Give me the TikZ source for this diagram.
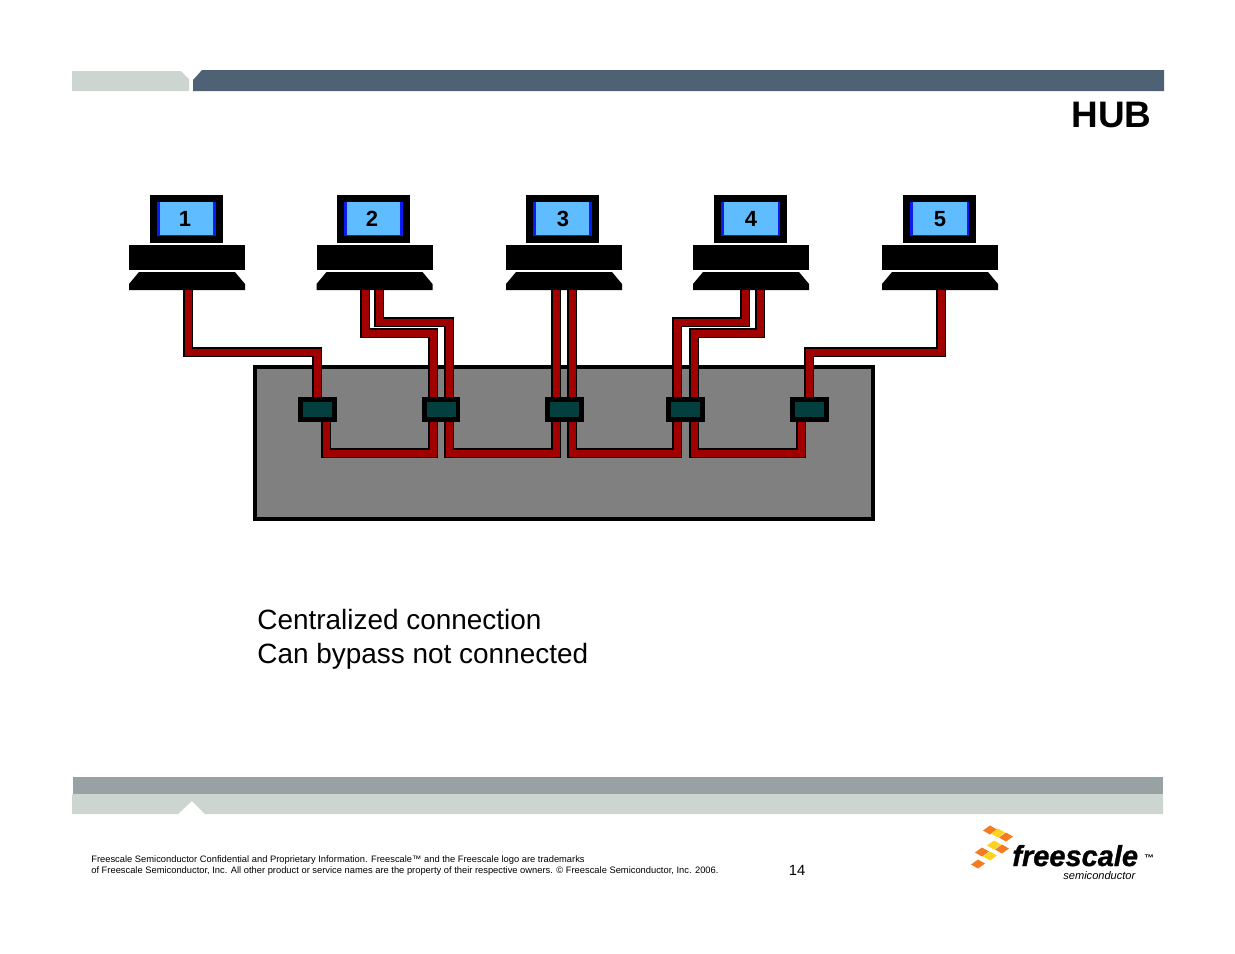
\documentclass[tikz,border=0pt]{standalone}
\usepackage{fontspec}
\setmainfont{Liberation Sans}
\definecolor{barlight}{HTML}{CCD5D0}
\definecolor{bardark}{HTML}{4F6174}
\definecolor{barmid}{HTML}{98A2A5}
\definecolor{screenfill}{HTML}{5EBCFF}
\definecolor{screenedge}{HTML}{0A1CF0}
\definecolor{cablered}{HTML}{A00000}
\definecolor{portfill}{HTML}{033F3F}
\definecolor{hubgrey}{HTML}{808080}
\definecolor{logoorange}{HTML}{F47B20}
\definecolor{logoyellow}{HTML}{FFD21F}

\begin{document}
\begin{tikzpicture}[x=0.02cm, y=-0.02cm,
        monitor/.style={draw=black, line width=0.14cm, fill=screenedge, minimum width=1.32cm, minimum height=0.82cm, inner sep=0pt},
        screen/.style={fill=screenfill, minimum width=1.08cm, minimum height=0.66cm, inner sep=0pt},
        hubbox/.style={draw=black, line width=0.08cm, fill=hubgrey, minimum width=12.36cm, minimum height=3.04cm},
        port/.style={draw=black, line width=0.1cm, fill=portfill, minimum width=0.68cm, minimum height=0.4cm, inner sep=0pt},
        cable/.style={draw=black, line width=0.03cm, double=cablered, double distance=0.14cm},
        caption/.style={anchor=base west, inner sep=0pt, font=\fontsize{15.9}{15.9}\selectfont},
        legal/.style={anchor=base west, inner sep=0pt, font=\fontsize{5.32}{5.32}\selectfont}]
    \useasboundingbox (0,0) rectangle (1235,954);
    \fill[barlight] (72,71) -- (181,71) -- (189,79) -- (189,91) -- (72,91) -- cycle;
    \fill[bardark] (193,91) -- (193,80) -- (202,70) -- (1164,70) -- (1164,91) -- cycle;
    \fill[barmid] (73,777) rectangle (1163,794);
    \fill[barlight] (72,794) -- (1163,794) -- (1163,814) -- (205,814) -- (192,801) -- (178,814) -- (72,814) -- cycle;
    \node[anchor=base east, inner sep=0pt, font=\fontsize{21}{21}\selectfont\bfseries] (title) at (1152,127) {HUB};
    \foreach \n/\x/\t/\b in {1/150/185/129,2/337/372/316.5,3/526/563/506,4/714/751/693,5/903/940/882} {
        \node[monitor] (mon\n) at (\x+36.5,219) {};
        \node[screen] (scr\n) at (\x+36.5,218.5) {};
        \node[inner sep=0pt, font=\fontsize{12.5}{12.5}\selectfont\bfseries] (num\n) at (\t,219) {\n};
        \fill (\b,245) rectangle (\b+116,270);
        \fill (\b,290) -- (\b,284) -- (\b+10,272) -- (\b+106,272) -- (\b+116,284) -- (\b+116,290) -- cycle;
    }
    \node[hubbox] (hub) at (564,443) {};
    \foreach \n/\x/\y in {a1/188/290,a2/365/290,b2/379/290,a3/556/290,b3/572/290,a4/745/290,b4/760/290,a5/941/290,
            u1/317/400,u2/433/400,v2/449/400,u3/556/400,v3/572/400,u4/677/400,v4/694/400,u5/809/400,
            d1/326/420,d2/433/420,e2/449/420,d3/556/420,e3/572/420,d4/677/420,e4/694/420,d5/801/420}
        \coordinate (\n) at (\x,\y);
    \foreach \a/\b/\y in {a1/u1/352,a2/u2/333,b2/v2/322,a3/u3/352,b3/v3/352,a4/u4/322,b4/v4/333,a5/u5/352,
            d1/d2/453,e2/d3/453,e3/d4/453,e4/d5/453}
        \draw[cable] (\a) -- (\a |- 0,\y) -- (\b |- 0,\y) -- (\b);
    \foreach \n/\x in {1/317.5,2/441,3/564.5,4/685.5,5/809.5}
        \node[port] (port\n) at (\x,409.5) {};
    \node[caption] (capa) at (257,629.5) {Centralized connection};
    \node[caption] (capb) at (257,663.5) {Can bypass not connected};
    \node[legal] (lega) at (91,862) {Freescale Semiconductor Confidential and Proprietary Information. Freescale™ and the Freescale logo are trademarks};
    \node[legal] (legb) at (91,873) {of Freescale Semiconductor, Inc. All other product or service names are the property of their respective owners. © Freescale Semiconductor, Inc. 2006.};
    \node[anchor=base, inner sep=0pt, font=\fontsize{8.4}{8.4}\selectfont] (page) at (797,875) {14};
    \foreach \x/\y/\c in {990/830/logoorange,998/833/logoyellow,1006/837/logoorange,994/845/logoyellow,1002/849/logoorange,982/852/logoorange,990/856/logoyellow,978/864/logoorange}
        \fill[\c] (\x-7,\y+0.5) -- (\x,\y-4.5) -- (\x+7,\y-0.5) -- (\x,\y+4.5) -- cycle;
    \node[anchor=base west, inner sep=0pt, font=\fontsize{16.5}{16.5}\selectfont\bfseries\itshape\addfontfeature{FakeBold=1}] (logo) at (1012,866) {freescale};
    \node[anchor=base west, inner sep=0pt, font=\fontsize{6.3}{6.3}\selectfont\itshape] (semi) at (1063,879) {semiconductor};
    \node[anchor=base west, inner sep=0pt, font=\fontsize{5.5}{5.5}\selectfont\bfseries] (tm) at (1144,861) {™};
\end{tikzpicture}
\end{document}
